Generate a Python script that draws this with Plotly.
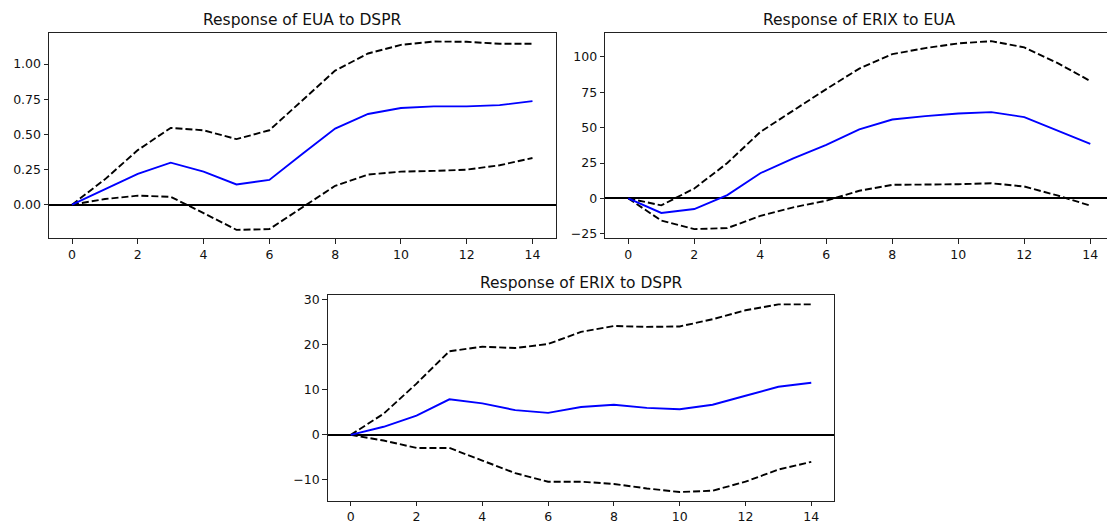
import plotly.graph_objects as go

steps = list(range(15))

# Response of EUA to DSPR
eua_dspr = [0, 0.11, 0.219, 0.299, 0.235, 0.144, 0.176, 0.36, 0.541, 0.645, 0.687, 0.699, 0.699, 0.708, 0.736]
eua_dspr_up = [0, 0.18, 0.388, 0.546, 0.529, 0.466, 0.529, 0.74, 0.953, 1.075, 1.136, 1.16, 1.158, 1.144, 1.144]
eua_dspr_lo = [0, 0.04, 0.064, 0.056, -0.06, -0.179, -0.174, -0.02, 0.134, 0.214, 0.235, 0.24, 0.249, 0.28, 0.332]

# Response of ERIX to EUA
erix_eua = [0, -10.3, -7.5, 2.3, 17.8, 28.3, 37.9, 48.8, 55.8, 58.2, 60.0, 61.0, 57.5, 48.1, 38.6]
erix_eua_up = [0, -4.9, 7.0, 25.0, 47.0, 62.4, 77.3, 91.8, 102.0, 106.3, 109.6, 111.2, 106.8, 95.8, 83.0]
erix_eua_lo = [0, -15.7, -21.7, -21.0, -12.4, -6.3, -1.6, 5.4, 9.6, 9.6, 10.0, 10.7, 8.4, 2.1, -5.1]

# Response of ERIX to DSPR
erix_dspr = [0, 1.8, 4.3, 7.9, 7.0, 5.5, 4.9, 6.2, 6.7, 6.0, 5.7, 6.7, 8.7, 10.7, 11.6]
erix_dspr_up = [0, 4.7, 11.4, 18.6, 19.6, 19.3, 20.2, 22.9, 24.2, 24.0, 24.1, 25.7, 27.7, 29.0, 29.0]
erix_dspr_lo = [0, -1.25, -2.9, -2.9, -5.7, -8.5, -10.4, -10.4, -10.9, -11.9, -12.7, -12.4, -10.4, -7.7, -6.0]

titles = ["Response of EUA to DSPR", "Response of ERIX to EUA", "Response of ERIX to DSPR"]
x_ticks = [0, 2, 4, 6, 8, 10, 12, 14]

W, H = 1107, 529
FONT = "DejaVu Sans"

fig = go.Figure()

panels = [
    ("x", "y", eua_dspr, eua_dspr_up, eua_dspr_lo),
    ("x2", "y2", erix_eua, erix_eua_up, erix_eua_lo),
    ("x3", "y3", erix_dspr, erix_dspr_up, erix_dspr_lo),
]
for xa, ya, mid, up, lo in panels:
    fig.add_trace(go.Scatter(x=steps, y=up, mode="lines", xaxis=xa, yaxis=ya,
                             line=dict(color="black", width=1.9, dash="7px,3px"), showlegend=False))
    fig.add_trace(go.Scatter(x=steps, y=lo, mode="lines", xaxis=xa, yaxis=ya,
                             line=dict(color="black", width=1.9, dash="7px,3px"), showlegend=False))
    fig.add_trace(go.Scatter(x=steps, y=mid, mode="lines", xaxis=xa, yaxis=ya,
                             line=dict(color="#0000ff", width=1.9), showlegend=False))

def px_x(p):
    return p / W

def px_y(p):
    return 1 - p / H

tickfont = dict(family=FONT, size=12.5, color="#111")
common_x = dict(showgrid=False, zeroline=False, showline=True, linecolor="#222", linewidth=1,
                ticks="outside", ticklen=4.5, tickwidth=1, tickcolor="#222",
                tickvals=x_ticks, tickfont=tickfont)
common_y = dict(showgrid=False, zeroline=True, zerolinecolor="black", zerolinewidth=2,
                showline=True, linecolor="#222", linewidth=1,
                ticks="outside", ticklen=4.5, tickwidth=1, tickcolor="#222", tickfont=tickfont)

fig.update_layout(
    width=W, height=H,
    margin=dict(l=0, r=0, t=0, b=0),
    paper_bgcolor="white", plot_bgcolor="white",
    font=dict(family=FONT, color="#111"),
    xaxis=dict(**common_x, domain=[px_x(49), px_x(555.5)], range=[-0.7, 14.7], anchor="y", mirror=True),
    yaxis=dict(**common_y, domain=[px_y(237.7), px_y(30)], range=[-0.237, 1.223], anchor="x",
               tickvals=[0, 0.25, 0.5, 0.75, 1.0], tickformat=".2f", mirror=True),
    xaxis2=dict(**common_x, domain=[px_x(605.2), 1.0], range=[-0.7, 14.506], anchor="y2", mirror=True),
    yaxis2=dict(**common_y, domain=[px_y(237.7), px_y(30)], range=[-28.0, 117.2], anchor="x2",
                tickvals=[-25, 0, 25, 50, 75, 100], mirror=False),
    xaxis3=dict(**common_x, domain=[px_x(327.7), px_x(834.3)], range=[-0.7, 14.7], anchor="y3", mirror=True),
    yaxis3=dict(**common_y, domain=[px_y(503.3), px_y(295.3)], range=[-14.6, 31.1], anchor="x3",
                tickvals=[-10, 0, 10, 20, 30], mirror=True),
)

title_pos = [((49 + 555.5) / 2, 17), ((605.2 + 1113) / 2, 17), ((327.7 + 834.3) / 2, 283)]
for t, (cx, cy) in zip(titles, title_pos):
    fig.add_annotation(text=t, xref="paper", yref="paper", x=px_x(cx), y=px_y(cy),
                       xanchor="center", yanchor="middle", showarrow=False,
                       font=dict(family=FONT, size=15.5, color="#111"))

fig.write_html("out.html")
